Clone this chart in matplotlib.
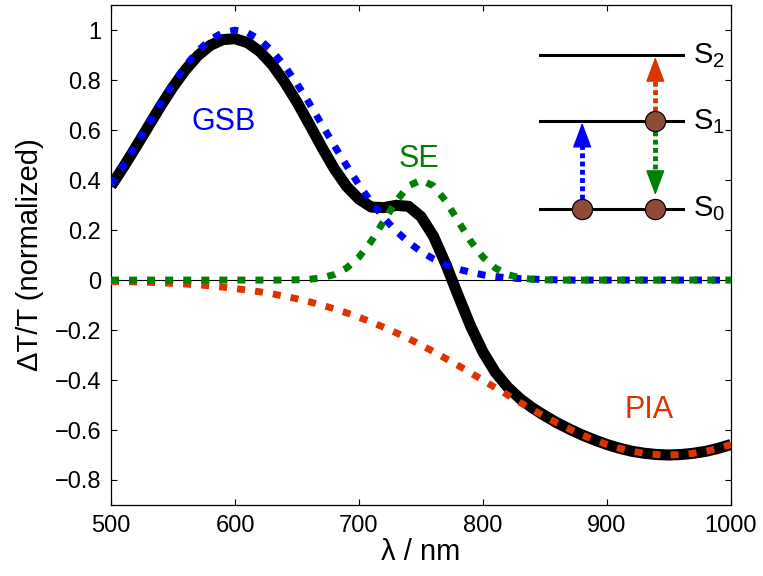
import numpy as np
import matplotlib
matplotlib.use("Agg")
import matplotlib.pyplot as plt

plt.rcParams["font.family"] = ["Liberation Sans", "DejaVu Sans"]
plt.rcParams["mathtext.default"] = "regular"

# wavelength grid (nm) and the three spectral contributions + their sum
wavelength = list(range(500, 1001, 10))

gsb = [0.381, 0.458, 0.539, 0.623, 0.707, 0.786, 0.857, 0.917, 0.962, 0.990,
       1.000, 0.990, 0.962, 0.917, 0.857, 0.786, 0.707, 0.623, 0.539, 0.458,
       0.381, 0.311, 0.249, 0.196, 0.151, 0.114, 0.085, 0.062, 0.044, 0.031,
       0.021, 0.014, 0.009, 0.006, 0.004, 0.002, 0.001, 0, 0, 0,
       0, 0, 0, 0, 0, 0, 0, 0, 0, 0, 0]

se = [0, 0, 0, 0, 0, 0, 0, 0, 0, 0,
      0, 0, 0, 0, 0, 0.001, 0.003, 0.009, 0.022, 0.048,
      0.092, 0.156, 0.236, 0.316, 0.377, 0.400, 0.377, 0.316, 0.236, 0.156,
      0.092, 0.048, 0.022, 0.009, 0.003, 0.001, 0, 0, 0, 0,
      0, 0, 0, 0, 0, 0, 0, 0, 0, 0, 0]

pia = [-0.005, -0.006, -0.007, -0.009, -0.011, -0.013, -0.016, -0.019, -0.023, -0.028,
       -0.034, -0.040, -0.047, -0.055, -0.065, -0.075, -0.087, -0.100, -0.115, -0.131,
       -0.149, -0.168, -0.189, -0.211, -0.234, -0.260, -0.286, -0.314, -0.342, -0.371,
       -0.401, -0.431, -0.460, -0.490, -0.519, -0.546, -0.573, -0.597, -0.620, -0.640,
       -0.658, -0.673, -0.685, -0.693, -0.698, -0.700, -0.698, -0.693, -0.685, -0.673,
       -0.658]

total = [0.376, 0.452, 0.532, 0.614, 0.696, 0.773, 0.841, 0.898, 0.939, 0.962,
         0.966, 0.950, 0.915, 0.862, 0.792, 0.712, 0.623, 0.532, 0.446, 0.375,
         0.324, 0.292, 0.290, 0.299, 0.295, 0.254, 0.176, 0.064, -0.062, -0.184,
         -0.288, -0.369, -0.429, -0.475, -0.512, -0.543, -0.572, -0.597, -0.620, -0.640,
         -0.658, -0.673, -0.685, -0.693, -0.698, -0.700, -0.698, -0.693, -0.685, -0.673,
         -0.658]

x_ticks = [500, 600, 700, 800, 900, 1000]
y_ticks = [-0.8, -0.6, -0.4, -0.2, 0, 0.2, 0.4, 0.6, 0.8, 1]
y_tick_labels = ["\u22120.8", "\u22120.6", "\u22120.4", "\u22120.2", "0",
                 "0.2", "0.4", "0.6", "0.8", "1"]

# energy level scheme (drawn in data coordinates)
level_names = ["S$_0$", "S$_1$", "S$_2$"]
level_y = [0.285, 0.635, 0.900]
level_x = [846, 961]
electron_x = [880, 939, 939]
electron_y = [0.285, 0.285, 0.635]
# (x, start, tip, colour)
transitions = [(880, 0.325, 0.630, "#0000FF"),
               (939, 0.675, 0.893, "#DD3300"),
               (939, 0.597, 0.340, "#008000")]

BLUE, GREEN, RED = "#0000FF", "#008000", "#DD3300"
dots = (0, (1.15, 1.45))

fig = plt.figure(figsize=(7.63, 5.76), dpi=100)
ax = fig.add_axes([0.1455, 0.1233, 0.8125, 0.8677])

ax.axhline(0, color="k", lw=0.8, zorder=1)
ax.plot(wavelength, total, color="k", lw=8.0, solid_capstyle="butt",
        solid_joinstyle="round", zorder=2)
ax.plot(wavelength, gsb, color=BLUE, lw=5, linestyle=dots, zorder=3)
ax.plot(wavelength, pia, color=RED, lw=5, linestyle=dots, zorder=4)
ax.plot(wavelength, se, color=GREEN, lw=5, linestyle=dots, zorder=5)

ax.text(591, 0.634, "GSB", color=BLUE, fontsize=22, ha="center", va="center")
ax.text(748, 0.485, "SE", color=GREEN, fontsize=22, ha="center", va="center")
ax.text(934, -0.52, "PIA", color=RED, fontsize=22, ha="center", va="center")

# level diagram
for name, y in zip(level_names, level_y):
    ax.plot(level_x, [y, y], color="k", lw=2.2, zorder=6)
    ax.text(969, y, name, fontsize=21, ha="left", va="center")

for x, y0, y1, c in transitions:
    head = 0.09 if y1 > y0 else -0.09
    ax.plot([x, x], [y0, y1 - head], color=c, lw=3.5,
            linestyle=(0, (1, 0.7)), zorder=6)
    ax.annotate("", xy=(x, y1), xytext=(x, y1 - head),
                arrowprops=dict(arrowstyle="-|>,head_length=0.8,head_width=0.3",
                                mutation_scale=20, color=c, lw=1,
                                shrinkA=0, shrinkB=0), zorder=7)

ax.plot(electron_x, electron_y, "o", ms=14.5, mfc="#8E4B38", mec="k",
        mew=0.9, zorder=8)

ax.set_xlim(500, 1000)
ax.set_ylim(-0.9, 1.1)
ax.set_xticks(x_ticks)
ax.set_yticks(y_ticks)
ax.set_yticklabels(y_tick_labels)
ax.tick_params(direction="in", length=4.5, width=0.8, top=True, right=True,
               labelsize=17, pad=7)
for s in ax.spines.values():
    s.set_linewidth(0.9)

ax.set_xlabel("\u03bb / nm", fontsize=21, labelpad=1)
ax.set_ylabel("\u0394T/T (normalized)", fontsize=21, labelpad=8)

fig.savefig("out.png", dpi=100)
